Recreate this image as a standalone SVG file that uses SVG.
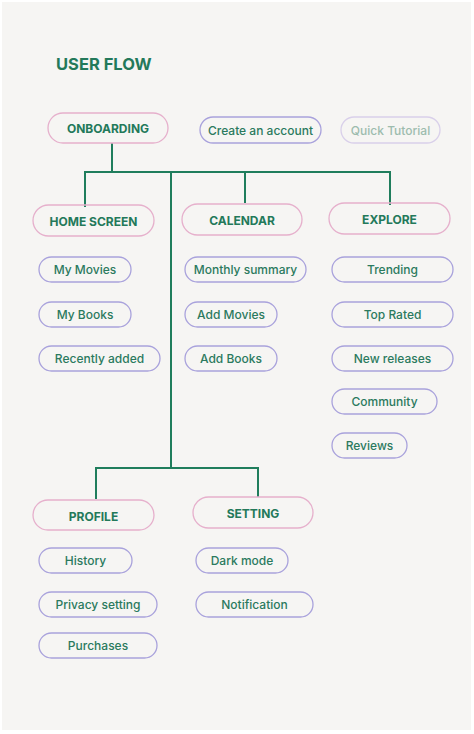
<svg xmlns="http://www.w3.org/2000/svg" width="474" height="734" viewBox="0 0 474 734">
<style>
.bg{fill:#f6f5f3}
.h{fill:none;stroke:#e6b0cc;stroke-width:1.3}
.c{fill:none;stroke:#a9a2dc;stroke-width:1.3}
.q{fill:none;stroke:#d9d0ea;stroke-width:1.3}
.ht{font-family:Inter,"Open Sans",sans-serif;font-weight:700;font-size:12px;fill:#23795a;text-anchor:middle;dominant-baseline:central}
.ct{font-family:Inter,"Open Sans",sans-serif;font-weight:500;font-size:12px;fill:#2b7a5e;text-anchor:middle;dominant-baseline:central}
.qt{font-family:Inter,"Open Sans",sans-serif;font-weight:500;font-size:12px;fill:#9dbcae;text-anchor:middle;dominant-baseline:central}
.ln{fill:none;stroke:#1f7d5c;stroke-width:2}
</style>
<rect width="474" height="734" fill="#ffffff"/>
<rect class="bg" x="2" y="2" width="469" height="728"/>
<text x="56" y="70" font-family="Inter,'Open Sans',sans-serif" font-weight="700" font-size="16.5" fill="#23795a">USER FLOW</text>
<g id="connectors">
<path class="ln" d="M112 143V172M85 207V172H390V205M171 172V468M245 172V203M96 499V468H258V497"/>
</g>
<g id="onboarding"><rect class="h" x="48" y="113" width="120" height="30" rx="15"/><text class="ht" x="108" y="128.5">ONBOARDING</text></g>
<g id="create-account"><rect class="c" x="200" y="117" width="121" height="26" rx="13"/><text class="ct" x="260.5" y="130">Create an account</text></g>
<g id="quick-tutorial"><rect class="q" x="341" y="117" width="99" height="26" rx="13"/><text class="qt" x="390.5" y="130">Quick Tutorial</text></g>
<g id="home-screen"><rect class="h" x="33" y="205" width="121" height="31" rx="15.5"/><text class="ht" x="93.5" y="221">HOME SCREEN</text></g>
<g id="calendar"><rect class="h" x="182" y="204" width="120" height="31" rx="15.5"/><text class="ht" x="242" y="220">CALENDAR</text></g>
<g id="explore"><rect class="h" x="329" y="203" width="121" height="31" rx="15.5"/><text class="ht" x="389.5" y="219">EXPLORE</text></g>
<g id="my-movies"><rect class="c" x="39" y="257" width="92" height="25" rx="12.5"/><text class="ct" x="85" y="269.5">My Movies</text></g>
<g id="my-books"><rect class="c" x="39" y="302" width="92" height="25" rx="12.5"/><text class="ct" x="85" y="314">My Books</text></g>
<g id="recently-added"><rect class="c" x="39" y="346" width="121" height="25" rx="12.5"/><text class="ct" x="99.5" y="358">Recently added</text></g>
<g id="monthly-summary"><rect class="c" x="185" y="257" width="121" height="25" rx="12.5"/><text class="ct" x="245.5" y="269.5">Monthly summary</text></g>
<g id="add-movies"><rect class="c" x="185" y="302" width="92" height="25" rx="12.5"/><text class="ct" x="231" y="314">Add Movies</text></g>
<g id="add-books"><rect class="c" x="185" y="346" width="92" height="25" rx="12.5"/><text class="ct" x="231" y="358">Add Books</text></g>
<g id="trending"><rect class="c" x="332" y="257" width="121" height="25" rx="12.5"/><text class="ct" x="392.5" y="269.5">Trending</text></g>
<g id="top-rated"><rect class="c" x="332" y="302" width="121" height="25" rx="12.5"/><text class="ct" x="392.5" y="314">Top Rated</text></g>
<g id="new-releases"><rect class="c" x="332" y="346" width="121" height="25" rx="12.5"/><text class="ct" x="392.5" y="358">New releases</text></g>
<g id="community"><rect class="c" x="332" y="389" width="105" height="25" rx="12.5"/><text class="ct" x="384.5" y="401.5">Community</text></g>
<g id="reviews"><rect class="c" x="332" y="433" width="75" height="25" rx="12.5"/><text class="ct" x="369.5" y="445.5">Reviews</text></g>
<g id="profile"><rect class="h" x="33" y="500" width="121" height="30" rx="15"/><text class="ht" x="93.5" y="516">PROFILE</text></g>
<g id="setting"><rect class="h" x="193" y="497" width="120" height="31" rx="15.5"/><text class="ht" x="253" y="513">SETTING</text></g>
<g id="history"><rect class="c" x="39" y="548" width="93" height="25" rx="12.5"/><text class="ct" x="85.5" y="560.5">History</text></g>
<g id="privacy-setting"><rect class="c" x="39" y="592" width="118" height="25" rx="12.5"/><text class="ct" x="98" y="604.5">Privacy setting</text></g>
<g id="purchases"><rect class="c" x="39" y="633" width="118" height="25" rx="12.5"/><text class="ct" x="98" y="645.5">Purchases</text></g>
<g id="dark-mode"><rect class="c" x="196" y="548" width="92" height="25" rx="12.5"/><text class="ct" x="242" y="560.5">Dark mode</text></g>
<g id="notification"><rect class="c" x="196" y="592" width="117" height="25" rx="12.5"/><text class="ct" x="254.5" y="604.5">Notification</text></g>
</svg>
